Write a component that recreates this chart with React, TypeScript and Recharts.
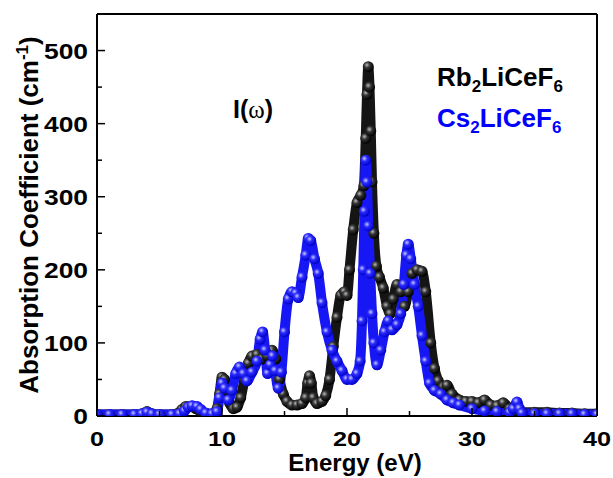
import React from "react";
import { ComposedChart, Line, XAxis, YAxis } from "recharts";

// Rb2LiCeF6 (black)
const rbEnergy = [
  0, 1, 2, 3, 3.6, 4, 4.4, 5, 6, 6.5, 6.8, 7.1, 7.5, 7.9, 8.3, 8.8, 9.3, 9.6, 9.8, 10,
  10.2, 10.4, 10.6, 10.9, 11.2, 11.5, 11.8, 12.1, 12.4, 12.8, 13.2, 13.6, 14, 14.3, 14.6,
  14.9, 15.2, 15.6, 16, 16.4, 16.7, 16.85, 17, 17.15, 17.3, 17.6, 18, 18.3, 18.6, 18.9,
  19.2, 19.5, 19.8, 20, 20.2, 20.5, 20.8, 21.1, 21.35, 21.5, 21.6, 21.7, 21.8, 21.9, 22,
  22.15, 22.35, 22.6, 22.9, 23.2, 23.45, 23.7, 24, 24.3, 24.6, 24.9, 25.2, 25.6, 26, 26.3,
  26.7, 27, 27.3, 27.7, 28, 28.4, 29, 29.5, 30, 30.5, 31, 31.5, 32, 32.5, 33, 33.5, 34,
  35, 36, 37, 38, 39, 40,
];
const rbAbs = [
  2, 2, 2, 2, 3, 6, 3, 2, 2, 4, 9, 13, 13, 10, 6, 3, 3, 10, 30, 53,
  50, 35, 18, 10, 12, 25, 50, 72, 82, 84, 78, 82, 90, 78, 50,
  30, 20, 15, 15, 17, 25, 45, 55, 45, 25, 17, 20, 28, 50, 95,
  135, 165, 170, 165, 200, 255, 292, 302, 315, 380, 440, 478, 450, 390, 320,
  250, 205, 190, 175, 150, 140, 160, 180, 170, 150, 170, 195, 200, 198, 170,
  100, 65, 48, 40, 42, 30, 22, 20, 20, 18, 22, 15, 14, 18, 10, 7, 5,
  5, 5, 4, 4, 3, 3,
];

// Cs2LiCeF6 (blue)
const csEnergy = [
  0, 1, 2, 3, 3.6, 4, 4.4, 5, 6, 6.6, 7, 7.3, 7.6, 8, 8.3, 8.7, 9.2, 9.6, 9.8, 10,
  10.2, 10.5, 10.8, 11.1, 11.4, 11.7, 12, 12.4, 12.8, 13.05, 13.25, 13.45, 13.65, 13.85,
  14.05, 14.25, 14.5, 14.75, 15, 15.3, 15.6, 15.9, 16.1, 16.4, 16.7, 16.9, 17.1, 17.4,
  17.7, 18, 18.4, 18.8, 19.2, 19.6, 20, 20.4, 20.8, 21.05, 21.2, 21.3, 21.4, 21.5, 21.6,
  21.7, 21.85, 22, 22.15, 22.4, 22.7, 23, 23.3, 23.6, 24, 24.3, 24.55, 24.75, 24.9, 25.1,
  25.4, 25.7, 26, 26.3, 26.6, 27, 27.5, 28, 28.5, 29, 30, 31, 32, 33, 33.3, 33.6, 33.8,
  34, 35, 36, 37, 38, 39, 40,
];
const csAbs = [
  2, 2, 2, 2, 3, 5, 3, 2, 2, 3, 7, 12, 14, 13, 9, 4, 3, 6, 25, 45,
  38, 22, 35, 58, 67, 58, 48, 60, 75, 105, 115, 90, 58, 70,
  82, 62, 38, 60, 115, 160, 170, 168, 162, 190, 220, 243, 240, 215,
  195, 155, 115, 90, 75, 62, 50, 50, 58, 75, 130, 200, 280, 350, 320,
  260, 195, 140, 100, 70, 90, 115, 130, 118, 125, 140, 180, 220, 235, 215,
  180, 150, 110, 75, 45, 35, 30, 22, 18, 15, 10, 7, 6, 5, 10, 19, 10,
  4, 3, 3, 3, 3, 2, 2,
];

const xTicks = [0, 5, 10, 15, 20, 25, 30, 35, 40];
const xLabels = [0, 10, 20, 30, 40];
const yTicks = [0, 50, 100, 150, 200, 250, 300, 350, 400, 450, 500, 550];
const yLabels = [0, 100, 200, 300, 400, 500];

const rbData = rbEnergy.map((e, i) => ({ e, v: rbAbs[i] }));
const csData = csEnergy.map((e, i) => ({ e, v: csAbs[i] }));

const FONT = '"Liberation Sans", Arial, sans-serif';

// ticks point into the plot, labels sit outside
const XTick = ({ x, y, payload }: any) => {
  const major = xLabels.includes(payload.value);
  return (
    <g>
      <line x1={x} y1={y} x2={x} y2={y - (major ? 8 : 5)} stroke="#000" strokeWidth={1.5} />
      {major && (
        <text
          transform={`translate(${x},${y + 30}) scale(1.2,1)`}
          textAnchor="middle"
          fontFamily={FONT}
          fontWeight="bold"
          fontSize={21}
          fill="#000"
        >
          {payload.value}
        </text>
      )}
    </g>
  );
};

const YTick = ({ x, y, payload }: any) => {
  const major = yLabels.includes(payload.value);
  return (
    <g>
      <line x1={x} y1={y} x2={x + (major ? 8 : 5)} y2={y} stroke="#000" strokeWidth={1.5} />
      {major && (
        <text
          transform={`translate(${x - 9},${y + 8}) scale(1.2,1)`}
          textAnchor="end"
          fontFamily={FONT}
          fontWeight="bold"
          fontSize={22}
          fill="#000"
        >
          {payload.value}
        </text>
      )}
    </g>
  );
};

const ball = (grad: string, tag: string) => (p: any) => (
  <circle key={`${tag}${p.index}`} cx={p.cx} cy={p.cy} r={5.5} fill={`url(#${grad})`} />
);

export default function App() {
  return (
    <div style={{ position: "absolute", left: 0, top: 0, width: 613, height: 478, background: "#fff" }}>
      <ComposedChart
        width={613}
        height={478}
        margin={{ top: 13, right: 15, bottom: 0, left: 0 }}
      >
        <XAxis
          xAxisId={0}
          type="number"
          dataKey="e"
          domain={[0, 40]}
          ticks={xTicks}
          interval={0}
          height={62}
          tickSize={0}
          tickMargin={0}
          tickLine={false}
          tick={XTick}
          axisLine={{ stroke: "#000", strokeWidth: 2 }}
          allowDataOverflow
        />
        <XAxis
          xAxisId="top"
          orientation="top"
          type="number"
          domain={[0, 40]}
          height={1}
          tick={false}
          tickLine={false}
          axisLine={{ stroke: "#000", strokeWidth: 2 }}
        />
        <YAxis
          yAxisId={0}
          type="number"
          domain={[0, 550]}
          ticks={yTicks}
          interval={0}
          width={97}
          tickSize={0}
          tickMargin={0}
          tickLine={false}
          tick={YTick}
          axisLine={{ stroke: "#000", strokeWidth: 2 }}
          allowDataOverflow
        />
        <YAxis
          yAxisId="right"
          orientation="right"
          type="number"
          domain={[0, 550]}
          width={1}
          tick={false}
          tickLine={false}
          axisLine={{ stroke: "#000", strokeWidth: 2 }}
        />
        <Line
          data={rbData}
          dataKey="v"
          type="monotone"
          stroke="#151515"
          strokeWidth={10}
          strokeLinecap="round"
          strokeLinejoin="round"
          dot={ball("ballBlack", "r")}
          activeDot={false}
          isAnimationActive={false}
        />
        <Line
          data={csData}
          dataKey="v"
          type="monotone"
          stroke="#1717f5"
          strokeWidth={10}
          strokeLinecap="round"
          strokeLinejoin="round"
          dot={ball("ballBlue", "c")}
          activeDot={false}
          isAnimationActive={false}
        />
      </ComposedChart>
      <svg
        width={613}
        height={478}
        style={{ position: "absolute", left: 0, top: 0, pointerEvents: "none" }}
      >
        <defs>
          <radialGradient id="ballBlack" cx="38%" cy="35%" r="65%">
            <stop offset="0%" stopColor="#b8b8b8" />
            <stop offset="40%" stopColor="#333" />
            <stop offset="100%" stopColor="#000" />
          </radialGradient>
          <radialGradient id="ballBlue" cx="38%" cy="35%" r="65%">
            <stop offset="0%" stopColor="#c8c8ff" />
            <stop offset="40%" stopColor="#2a2aff" />
            <stop offset="100%" stopColor="#0000c8" />
          </radialGradient>
        </defs>
        <text
          transform="translate(38,215) rotate(-90)"
          textAnchor="middle"
          fontFamily={FONT}
          fontWeight="bold"
          fontSize={26}
          fill="#000"
        >
          Absorption Coefficient (cm
          <tspan fontSize={17} dy={-10}>-1</tspan>
          <tspan dy={10}>)</tspan>
        </text>
        <text x={355} y={471} textAnchor="middle" fontFamily={FONT} fontWeight="bold" fontSize={24} fill="#000">
          Energy (eV)
        </text>
        <text x={233} y={118} fontFamily={FONT} fontWeight="bold" fontSize={25} fill="#000">
          I(<tspan fontWeight="normal" fontFamily='"Liberation Serif", serif'>ω</tspan>)
        </text>
        <text x={437} y={86} fontFamily={FONT} fontWeight="bold" fontSize={26} fill="#000">
          Rb<tspan fontSize={17} dy={6}>2</tspan>
          <tspan dy={-6}>LiCeF</tspan>
          <tspan fontSize={17} dy={6}>6</tspan>
        </text>
        <text x={437} y={127} fontFamily={FONT} fontWeight="bold" fontSize={26} fill="#0000ff">
          Cs<tspan fontSize={17} dy={6}>2</tspan>
          <tspan dy={-6}>LiCeF</tspan>
          <tspan fontSize={17} dy={6}>6</tspan>
        </text>
      </svg>
    </div>
  );
}
